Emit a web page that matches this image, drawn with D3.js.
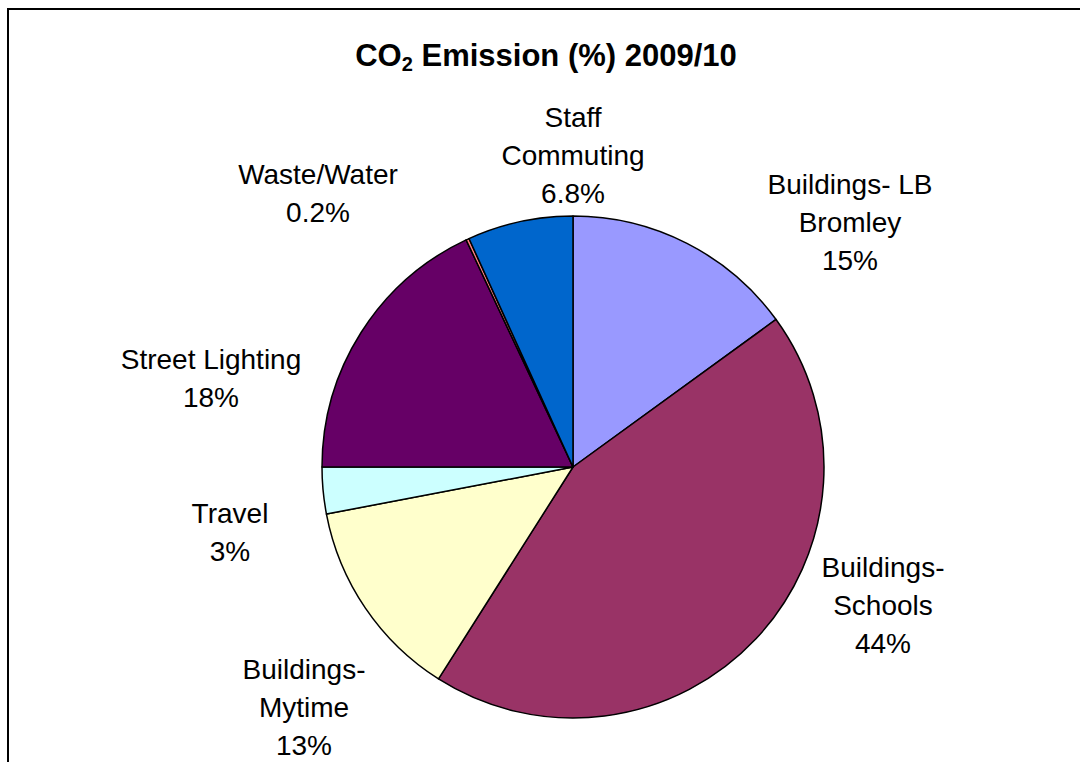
<!DOCTYPE html>
<html>
<head>
<meta charset="utf-8">
<script src="https://cdn.jsdelivr.net/npm/d3@7"></script>
<style>
  html, body { margin: 0; padding: 0; background: #fff; overflow: hidden; }
  svg { display: block; font-family: Arial, "Liberation Sans", sans-serif; }
</style>
</head>
<body>
<svg id="chart" width="1080" height="762"></svg>
<script>
// ---- data ----
const categories = ["Buildings- LB Bromley", "Buildings-Schools", "Buildings-Mytime", "Travel", "Street Lighting", "Waste/Water", "Staff Commuting"];
const values = [15, 44, 13, 3, 18, 0.2, 6.8];
const valueLabels = ["15%", "44%", "13%", "3%", "18%", "0.2%", "6.8%"];
const labelLines = [
  ["Buildings- LB", "Bromley"],
  ["Buildings-", "Schools"],
  ["Buildings-", "Mytime"],
  ["Travel"],
  ["Street Lighting"],
  ["Waste/Water"],
  ["Staff", "Commuting"]
];
const colors = ["#9999FF", "#993366", "#FFFFCC", "#CCFFFF", "#660066", "#FF8080", "#0066CC"];

// ---- layout (label block anchors: center x, first baseline y) ----
const labelAnchors = [
  [850, 194], [883, 577], [304, 679], [230, 523], [211, 369], [318, 184], [573, 127]
];
const cx = 573, cy = 467, radius = 251, lineH = 38;

const svg = d3.select("#chart");

// frame (extends beyond the visible area on right/bottom)
svg.append("rect")
  .attr("x", 8).attr("y", 9).attr("width", 1200).attr("height", 900)
  .attr("fill", "none").attr("stroke", "#000").attr("stroke-width", 2);

// title
const title = svg.append("text")
  .attr("x", 546).attr("y", 66)
  .attr("text-anchor", "middle")
  .attr("font-size", 31).attr("font-weight", "bold");
title.append("tspan").text("CO");
title.append("tspan").text("2").attr("font-size", 20).attr("dy", 5);
title.append("tspan").text(" Emission (%) 2009/10").attr("dy", -5);

// pie
const pie = d3.pie().sort(null).value(d => d);
const arc = d3.arc().innerRadius(0).outerRadius(radius);
const arcs = pie(values);

const g = svg.append("g").attr("transform", `translate(${cx},${cy})`);
g.selectAll("path")
  .data(arcs)
  .join("path")
  .attr("d", arc)
  .attr("fill", (d, i) => colors[i])
  .attr("stroke", "#000")
  .attr("stroke-width", 1.5)
  .attr("stroke-linejoin", "round");

// labels
arcs.forEach((d, i) => {
  const lines = labelLines[i].concat([valueLabels[i]]);
  const [x, y] = labelAnchors[i];
  const t = svg.append("text")
    .attr("text-anchor", "middle")
    .attr("font-size", 28)
    .attr("fill", "#000");
  lines.forEach((ln, j) => {
    t.append("tspan").attr("x", x).attr("y", y + j * lineH).text(ln);
  });
});
</script>
</body>
</html>
